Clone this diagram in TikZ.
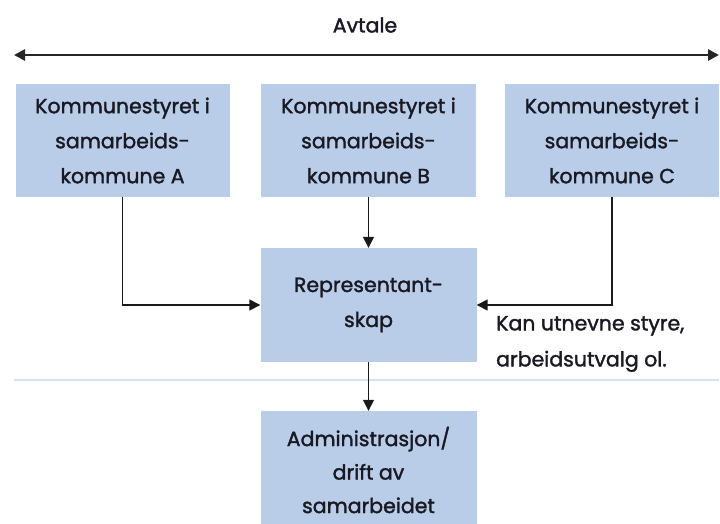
\documentclass[tikz,border=0pt]{standalone}
\usepackage{fontspec}
\setmainfont{Poppins}
\newfontfamily\medfont{Poppins}[FakeBold=1.6]
\usetikzlibrary{arrows.meta}
\definecolor{boxfill}{RGB}{185,205,233}
\definecolor{sepcol}{RGB}{214,224,240}
\definecolor{txt}{RGB}{25,25,35}
\tikzset{
  x=1pt,y=-1pt,
  box/.style={fill=boxfill, draw=none, align=center, text=txt, inner sep=0pt,
    font=\medfont\fontsize{20.5}{35}\selectfont},
  arr/.style={draw=black!90, line width=1.5pt, -{Triangle[length=11pt,width=11pt]}},
  lbl/.style={text=txt, font=\medfont\fontsize{20.5}{36}\selectfont, inner sep=0pt},
}
\begin{document}
\begin{tikzpicture}
\useasboundingbox (0,0) rectangle (720,523);
\node[lbl] (avt) at (365,25) {Avtale};
\coordinate (L) at (14,55);
\coordinate (R) at (719,55);
\draw[line width=2.6pt, draw=black!85, {Triangle[length=11pt,width=11pt]}-{Triangle[length=11pt,width=11pt]}] (L) -- (R);
\node[box, minimum width=214pt, minimum height=113pt] (A) at (122.5,140.5) {Kommunestyret i\\samarbeids-\\kommune A};
\node[box, minimum width=215pt, minimum height=113pt] (B) at (368.5,140.5) {Kommunestyret i\\samarbeids-\\kommune B};
\node[box, minimum width=214pt, minimum height=113pt] (C) at (612,140.5) {Kommunestyret i\\samarbeids-\\kommune C};
\node[box, minimum width=216pt, minimum height=114pt] (Rep) at (368.5,305) {Representant-\\skap};
\node[box, minimum width=216pt, minimum height=118pt, font=\medfont\fontsize{20.5}{33.5}\selectfont] (Adm) at (368.5,470) {Administrasjon/\\drift av\\samarbeidet};
\node[lbl, align=left, anchor=west] (kan) at (496,344) {Kan utnevne styre,\\arbeidsutvalg ol.};
\coordinate (S1) at (14,380);
\coordinate (S2) at (719,380);
\draw[draw=sepcol, line width=2pt] (S1) -- (S2);
\draw[arr] (A.south) |- (Rep.west);
\draw[arr] (B.south) -- (Rep.north);
\draw[arr] (C.south) |- (Rep.east);
\draw[arr] (Rep.south) -- (Adm.north);
\end{tikzpicture}
\end{document}
